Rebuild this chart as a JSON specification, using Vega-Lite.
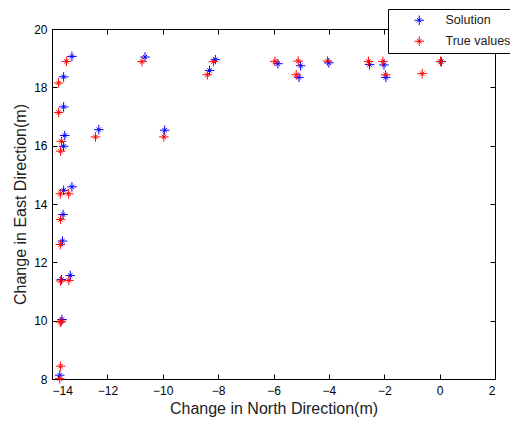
{
  "$schema": "https://vega.github.io/schema/vega-lite/v6.json",
  "autosize": {"type": "none"},
  "width": 443,
  "height": 350,
  "padding": {"left": 52, "top": 29, "right": 15, "bottom": 42},
  "background": "white",
  "config": {
    "view": {"stroke": "black", "strokeWidth": 1},
    "font": "Liberation Sans",
    "axis": {
      "grid": false,
      "domainColor": "black",
      "tickColor": "black",
      "labelColor": "black",
      "titleColor": "#222222",
      "labelFont": "Liberation Sans",
      "titleFont": "Liberation Sans",
      "labelFontSize": 12,
      "titleFontSize": 16,
      "titleFontWeight": "normal",
      "tickSize": -5
    }
  },
  "data": {
    "values": [
      {"n": -13.28, "e": 19.06, "series": "Solution"},
      {"n": -13.58, "e": 18.36, "series": "Solution"},
      {"n": -13.58, "e": 17.33, "series": "Solution"},
      {"n": -13.54, "e": 16.35, "series": "Solution"},
      {"n": -13.58, "e": 15.98, "series": "Solution"},
      {"n": -13.58, "e": 14.47, "series": "Solution"},
      {"n": -13.28, "e": 14.59, "series": "Solution"},
      {"n": -13.6, "e": 13.64, "series": "Solution"},
      {"n": -13.62, "e": 12.73, "series": "Solution"},
      {"n": -13.66, "e": 11.41, "series": "Solution"},
      {"n": -13.34, "e": 11.55, "series": "Solution"},
      {"n": -13.64, "e": 10.04, "series": "Solution"},
      {"n": -13.72, "e": 8.13, "series": "Solution"},
      {"n": -12.31, "e": 16.55, "series": "Solution"},
      {"n": -9.93, "e": 16.53, "series": "Solution"},
      {"n": -10.64, "e": 19.04, "series": "Solution"},
      {"n": -8.1, "e": 18.95, "series": "Solution"},
      {"n": -8.31, "e": 18.58, "series": "Solution"},
      {"n": -5.84, "e": 18.81, "series": "Solution"},
      {"n": -5.02, "e": 18.74, "series": "Solution"},
      {"n": -5.08, "e": 18.34, "series": "Solution"},
      {"n": -4.0, "e": 18.84, "series": "Solution"},
      {"n": -2.53, "e": 18.78, "series": "Solution"},
      {"n": -2.01, "e": 18.77, "series": "Solution"},
      {"n": -1.94, "e": 18.34, "series": "Solution"},
      {"n": 0.06, "e": 18.88, "series": "Solution"},
      {"n": -13.48, "e": 18.89, "series": "True values"},
      {"n": -13.76, "e": 18.15, "series": "True values"},
      {"n": -13.76, "e": 17.14, "series": "True values"},
      {"n": -13.66, "e": 16.15, "series": "True values"},
      {"n": -13.69, "e": 15.81, "series": "True values"},
      {"n": -13.7, "e": 14.35, "series": "True values"},
      {"n": -13.4, "e": 14.35, "series": "True values"},
      {"n": -13.69, "e": 13.47, "series": "True values"},
      {"n": -13.7, "e": 12.61, "series": "True values"},
      {"n": -13.69, "e": 11.36, "series": "True values"},
      {"n": -13.39, "e": 11.38, "series": "True values"},
      {"n": -13.7, "e": 9.95, "series": "True values"},
      {"n": -13.66, "e": 9.98, "series": "True values"},
      {"n": -13.69, "e": 8.44, "series": "True values"},
      {"n": -13.72, "e": 8.01, "series": "True values"},
      {"n": -12.43, "e": 16.3, "series": "True values"},
      {"n": -9.96, "e": 16.3, "series": "True values"},
      {"n": -10.75, "e": 18.88, "series": "True values"},
      {"n": -8.17, "e": 18.88, "series": "True values"},
      {"n": -8.39, "e": 18.43, "series": "True values"},
      {"n": -5.95, "e": 18.89, "series": "True values"},
      {"n": -5.11, "e": 18.9, "series": "True values"},
      {"n": -5.18, "e": 18.43, "series": "True values"},
      {"n": -4.05, "e": 18.9, "series": "True values"},
      {"n": -2.57, "e": 18.89, "series": "True values"},
      {"n": -2.05, "e": 18.89, "series": "True values"},
      {"n": -1.95, "e": 18.43, "series": "True values"},
      {"n": -0.63, "e": 18.47, "series": "True values"},
      {"n": 0.03, "e": 18.89, "series": "True values"}
    ]
  },
  "resolve": {"axis": {"x": "independent", "y": "independent"}},
  "layer": [
    {
      "mark": {"type": "point", "opacity": 0},
      "encoding": {
        "x": {"field": "n", "type": "quantitative", "scale": {"domain": [-14, 2], "nice": false, "zero": false},
          "axis": {"orient": "top", "labels": false, "title": null, "values": [-14, -12, -10, -8, -6, -4, -2, 0, 2]}},
        "y": {"field": "e", "type": "quantitative", "scale": {"domain": [8, 20], "nice": false, "zero": false},
          "axis": {"orient": "right", "labels": false, "title": null, "values": [8, 10, 12, 14, 16, 18, 20]}}
      }
    },
    {
      "mark": {"type": "point", "filled": false, "opacity": 1, "strokeWidth": 1, "size": 90,
        "shape": "M-1,0L1,0M0,-1L0,1M-0.45,-0.45L0.45,0.45M-0.45,0.45L0.45,-0.45"},
      "encoding": {
        "x": {"field": "n", "type": "quantitative", "scale": {"domain": [-14, 2], "nice": false, "zero": false},
          "axis": {"orient": "bottom", "title": "Change in North Direction(m)", "values": [-14, -12, -10, -8, -6, -4, -2, 0, 2], "labelPadding": 11, "titlePadding": 4}},
        "y": {"field": "e", "type": "quantitative", "scale": {"domain": [8, 20], "nice": false, "zero": false},
          "axis": {"orient": "left", "title": "Change in East Direction(m)", "values": [8, 10, 12, 14, 16, 18, 20], "labelPadding": 10, "titlePadding": 5}},
        "color": {"field": "series", "type": "nominal",
          "scale": {"domain": ["Solution", "True values"], "range": ["#0000ff", "#ff0000"]},
          "legend": {"title": null, "orient": "none", "legendX": 336, "legendY": -20,
            "strokeColor": "black", "fillColor": "white", "padding": 5, "symbolOffset": 20,
            "labelOffset": 20, "labelFontSize": 12.5, "labelFont": "Liberation Sans", "labelColor": "#222222",
            "rowPadding": 7, "symbolSize": 90, "symbolStrokeWidth": 1,
            "symbolType": "M-1,0L1,0M0,-1L0,1M-0.45,-0.45L0.45,0.45M-0.45,0.45L0.45,-0.45"}
        }
      }
    }
  ]
}
